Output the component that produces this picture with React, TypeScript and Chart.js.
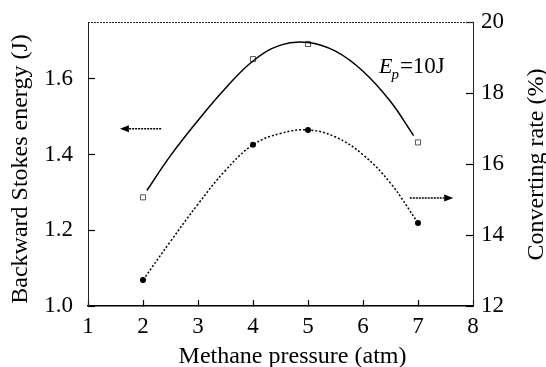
import { useEffect, useRef } from "react";
import { Chart, registerables } from "chart.js";

Chart.register(...registerables);

// ---- data ----
const pressure = [2, 4, 5, 7];
const stokesEnergy = [1.287, 1.652, 1.692, 1.432];
const convertingRate = [12.73, 16.54, 16.96, 14.34];

const energyFitX = [2.07, 2.5, 3.0, 3.5, 4.0, 4.5, 5.0, 5.5, 6.0, 6.5, 6.92];
const energyFitY = [1.305, 1.397, 1.49, 1.575, 1.647, 1.689, 1.696, 1.673, 1.62, 1.54, 1.45];

const rateFitX = [2.0, 2.5, 3.0, 3.5, 4.0, 4.5, 5.0, 5.5, 6.0, 6.5, 7.0];
const rateFitY = [12.73, 13.82, 14.87, 15.82, 16.54, 16.86, 16.96, 16.76, 16.26, 15.46, 14.34];

const xTicks = [1, 2, 3, 4, 5, 6, 7, 8];
const leftTicks = [1.0, 1.2, 1.4, 1.6];
const rightTicks = [12, 14, 16, 18, 20];

const xTitle = "Methane pressure (atm)";
const leftTitle = "Backward Stokes energy (J)";
const rightTitle = "Converting rate (%)";

// annotation arrows (data coordinates)
const leftArrowX = [2.33, 1.58];
const leftArrowY = 1.468;
const rightArrowX = [6.85, 7.64];
const rightArrowY = 15.04;
const labelPosX = 6.29;
const labelPosY = 1.616;

const FONT = "'Liberation Serif', 'Times New Roman', serif";

function drawArrow(ctx: CanvasRenderingContext2D, x1: number, x2: number, y: number) {
  const dir = x2 > x1 ? 1 : -1;
  const headLen = 9;
  ctx.save();
  ctx.strokeStyle = "#000";
  ctx.lineWidth = 1.5;
  ctx.setLineDash([2, 1]);
  ctx.beginPath();
  ctx.moveTo(x1, y);
  ctx.lineTo(x2 - dir * headLen, y);
  ctx.stroke();
  ctx.setLineDash([]);
  ctx.fillStyle = "#000";
  ctx.beginPath();
  ctx.moveTo(x2, y);
  ctx.lineTo(x2 - dir * headLen, y - 3.5);
  ctx.lineTo(x2 - dir * headLen, y + 3.5);
  ctx.closePath();
  ctx.fill();
  ctx.restore();
}

const decorPlugin = {
  id: "decor",
  afterDraw(chart: any) {
    const ctx: CanvasRenderingContext2D = chart.ctx;
    const { left, right, top } = chart.chartArea;
    const xs = chart.scales.x;
    const ys = chart.scales.y;
    const y2s = chart.scales.y2;

    // top border
    ctx.save();
    ctx.strokeStyle = "#222";
    ctx.lineWidth = 1;
    ctx.setLineDash([2, 1]);
    ctx.beginPath();
    ctx.moveTo(left, top + 0.5);
    ctx.lineTo(right, top + 0.5);
    ctx.stroke();
    ctx.restore();

    // arrows
    drawArrow(ctx, xs.getPixelForValue(leftArrowX[0]), xs.getPixelForValue(leftArrowX[1]), ys.getPixelForValue(leftArrowY));
    drawArrow(ctx, xs.getPixelForValue(rightArrowX[0]), xs.getPixelForValue(rightArrowX[1]), y2s.getPixelForValue(rightArrowY));

    // Ep = 10J label
    ctx.save();
    ctx.fillStyle = "#000";
    ctx.textBaseline = "alphabetic";
    ctx.textAlign = "left";
    let lx = xs.getPixelForValue(labelPosX);
    const ly = ys.getPixelForValue(labelPosY);
    ctx.font = `italic 22px ${FONT}`;
    ctx.fillText("E", lx, ly);
    lx += ctx.measureText("E").width - 1;
    ctx.font = `italic 15px ${FONT}`;
    ctx.fillText("p", lx, ly + 6);
    lx += ctx.measureText("p").width + 1;
    ctx.font = `23px ${FONT}`;
    ctx.fillText("=10J", lx, ly);
    ctx.restore();

    // axis titles
    ctx.save();
    ctx.fillStyle = "#000";
    ctx.font = `24px ${FONT}`;
    ctx.textAlign = "center";
    ctx.textBaseline = "middle";
    ctx.fillText(xTitle, 292.5, 356.5);

    ctx.translate(20.5, 169);
    ctx.rotate(-Math.PI / 2);
    ctx.fillText(leftTitle, 0, 0);
    ctx.restore();

    ctx.save();
    ctx.fillStyle = "#000";
    ctx.font = `24px ${FONT}`;
    ctx.textAlign = "center";
    ctx.textBaseline = "middle";
    ctx.translate(537, 164.5);
    ctx.rotate(-Math.PI / 2);
    ctx.fillText(rightTitle, 0, 0);
    ctx.restore();
  },
};

export default function App() {
  const ref = useRef<HTMLCanvasElement | null>(null);

  useEffect(() => {
    document.body.style.margin = "0";
    const canvas = ref.current;
    if (!canvas) return;
    const tickFont = { family: FONT, size: 23, lineHeight: 1.2 };
    const fitY = (s: any) => {
      s.paddingTop = 0;
      s.paddingBottom = 0;
    };
    const chart = new Chart(canvas, {
      type: "scatter",
      data: {
        datasets: [
          {
            data: energyFitX.map((x, i) => ({ x, y: energyFitY[i] })),
            yAxisID: "y",
            showLine: true,
            borderColor: "#000",
            borderWidth: 1.5,
            pointRadius: 0,
            tension: 0.4,
            fill: false,
          },
          {
            data: rateFitX.map((x, i) => ({ x, y: rateFitY[i] })),
            yAxisID: "y2",
            showLine: true,
            borderColor: "#000",
            borderWidth: 1.5,
            borderDash: [2, 2],
            pointRadius: 0,
            tension: 0.4,
            fill: false,
          },
          {
            data: pressure.map((x, i) => ({ x, y: stokesEnergy[i] })),
            yAxisID: "y",
            showLine: false,
            pointStyle: "rect",
            pointRadius: 3.6,
            pointBackgroundColor: "#fff",
            pointBorderColor: "#555",
            pointBorderWidth: 1,
          },
          {
            data: pressure.map((x, i) => ({ x, y: convertingRate[i] })),
            yAxisID: "y2",
            showLine: false,
            pointStyle: "circle",
            pointRadius: 3,
            pointBackgroundColor: "#000",
            pointBorderColor: "#000",
            pointBorderWidth: 0,
          },
        ],
      } as any,
      options: {
        responsive: false,
        animation: false,
        devicePixelRatio: 1,
        layout: { padding: { top: 22, left: 0, right: 0, bottom: 0 } },
        plugins: { legend: { display: false }, tooltip: { enabled: false } },
        scales: {
          x: {
            type: "linear",
            position: "bottom",
            min: 1,
            max: 8,
            afterBuildTicks: (s: any) => {
              s.ticks = xTicks.map((v) => ({ value: v }));
            },
            afterFit: (s: any) => {
              s.height = 61;
              s.paddingLeft = 0;
              s.paddingRight = 0;
            },
            grid: { drawOnChartArea: false, drawTicks: true, tickLength: -6, tickColor: "#000", tickWidth: 1.2 },
            border: { display: true, color: "#000", width: 1.5 },
            ticks: { padding: 13, color: "#000", font: tickFont, maxRotation: 0, autoSkip: false, callback: (v: any) => String(v) },
          },
          y: {
            type: "linear",
            position: "left",
            min: 1.0,
            max: 1.75,
            afterBuildTicks: (s: any) => {
              s.ticks = leftTicks.map((v) => ({ value: v }));
            },
            afterFit: (s: any) => {
              s.width = 88;
              fitY(s);
            },
            grid: { drawOnChartArea: false, drawTicks: true, tickLength: -7, tickColor: "#000", tickWidth: 1.2 },
            border: { display: true, color: "#222", width: 1, dash: [2, 1] },
            ticks: { padding: 22, color: "#000", font: tickFont, autoSkip: false, callback: (v: any) => Number(v).toFixed(1) },
          },
          y2: {
            type: "linear",
            position: "right",
            min: 12,
            max: 20,
            afterBuildTicks: (s: any) => {
              s.ticks = rightTicks.map((v) => ({ value: v }));
            },
            afterFit: (s: any) => {
              s.width = 73;
              fitY(s);
            },
            grid: { drawOnChartArea: false, drawTicks: true, tickLength: -7, tickColor: "#000", tickWidth: 1.2 },
            border: { display: true, color: "#222", width: 1, dash: [2, 1] },
            ticks: { padding: 15, color: "#000", font: tickFont, autoSkip: false, callback: (v: any) => String(v) },
          },
        },
      } as any,
      plugins: [decorPlugin],
    });
    return () => chart.destroy();
  }, []);

  return (
    <div style={{ position: "absolute", left: 0, top: 0, width: 546, height: 367, background: "#fff" }}>
      <canvas ref={ref} width={546} height={367} style={{ display: "block", width: 546, height: 367 }} />
    </div>
  );
}
